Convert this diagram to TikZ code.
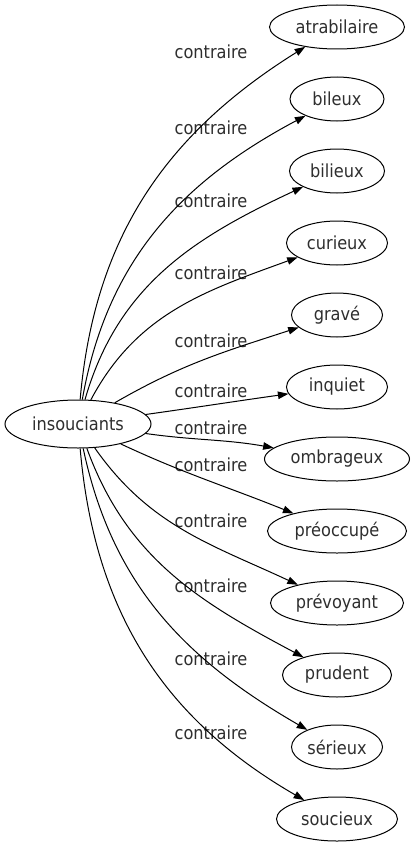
\documentclass[tikz,border=0pt]{standalone}
\usepackage{fontspec}
\setmainfont{DejaVu Sans Condensed}
\usetikzlibrary{arrows.meta,shapes.geometric}
\definecolor{GVText}{HTML}{2E2E2E}
\tikzset{
  gvBase/.style={
    font=\fontsize{18pt}{20pt}\selectfont,
    text=GVText
  },
  gvWord/.style={
    gvBase,
    ellipse,
    draw=black,
    line width=1pt,
    inner sep=0pt,
    minimum height=44pt
  },
  gvSource/.style={
    gvWord,
    minimum width=146pt,
    minimum height=48pt
  },
  gvLabel/.style={
    gvBase,
    inner sep=0pt
  },
  gvArrow/.style={
    line width=1pt,
    -{Triangle[length=10.5pt,width=7.5pt]}
  }
}

\begin{document}
\begin{tikzpicture}[x=1pt, y=1pt]
        \useasboundingbox (0,0) rectangle (416,-851);

        \node (src) [gvSource] at (78,-424) {insouciants};

        \node (w1) [gvWord, minimum width=135pt] at (337,-27) {atrabilaire};
        \node (w2) [gvWord, minimum width=94pt] at (337,-99) {bileux};
        \node (w3) [gvWord, minimum width=95pt] at (337,-171) {bilieux};
        \node (w4) [gvWord, minimum width=101pt] at (337,-243) {curieux};
        \node (w5) [gvWord, minimum width=91pt] at (337,-315) {gravé};
        \node (w6) [gvWord, minimum width=101pt] at (337,-387) {inquiet};
        \node (w7) [gvWord, minimum width=145pt] at (337,-459) {ombrageux};
        \node (w8) [gvWord, minimum width=139pt] at (337,-531) {préoccupé};
        \node (w9) [gvWord, minimum width=133pt] at (337,-603) {prévoyant};
        \node (w10) [gvWord, minimum width=109pt] at (337,-675) {prudent};
        \node (w11) [gvWord, minimum width=91pt] at (337,-747) {sérieux};
        \node (w12) [gvWord, minimum width=121pt] at (337,-819) {soucieux};

        % labels
        \node (l1) [gvLabel] at (211,-52) {contraire};
        \node (l2) [gvLabel] at (211,-128) {contraire};
        \node (l3) [gvLabel] at (211,-201) {contraire};
        \node (l4) [gvLabel] at (211,-273) {contraire};
        \node (l5) [gvLabel] at (211,-341) {contraire};
        \node (l6) [gvLabel] at (211,-391) {contraire};
        \node (l7) [gvLabel] at (211,-428) {contraire};
        \node (l8) [gvLabel] at (211,-465) {contraire};
        \node (l9) [gvLabel] at (211,-521) {contraire};
        \node (l10) [gvLabel] at (211,-586) {contraire};
        \node (l11) [gvLabel] at (211,-659) {contraire};
        \node (l12) [gvLabel] at (211,-733) {contraire};

        \draw [gvArrow] (src) to[out=85, in=212] (w1);
        \draw [gvArrow] (src) to[out=80, in=208] (w2);
        \draw [gvArrow] (src) to[out=74, in=205] (w3);
        \draw [gvArrow] (src) to[out=62, in=200] (w4);
        \draw [gvArrow] (src) to[out=30, in=198] (w5);
        \draw [gvArrow] (src) to[out=8, in=188] (w6);
        \draw [gvArrow] (src) to[out=-8, in=170] (w7);
        \draw [gvArrow] (src) to[out=-25, in=158] (w8);
        \draw [gvArrow] (src) to[out=-55, in=155] (w9);
        \draw [gvArrow] (src) to[out=-70, in=152] (w10);
        \draw [gvArrow] (src) to[out=-78, in=150] (w11);
        \draw [gvArrow] (src) to[out=-85, in=150] (w12);
\end{tikzpicture}
\end{document}
